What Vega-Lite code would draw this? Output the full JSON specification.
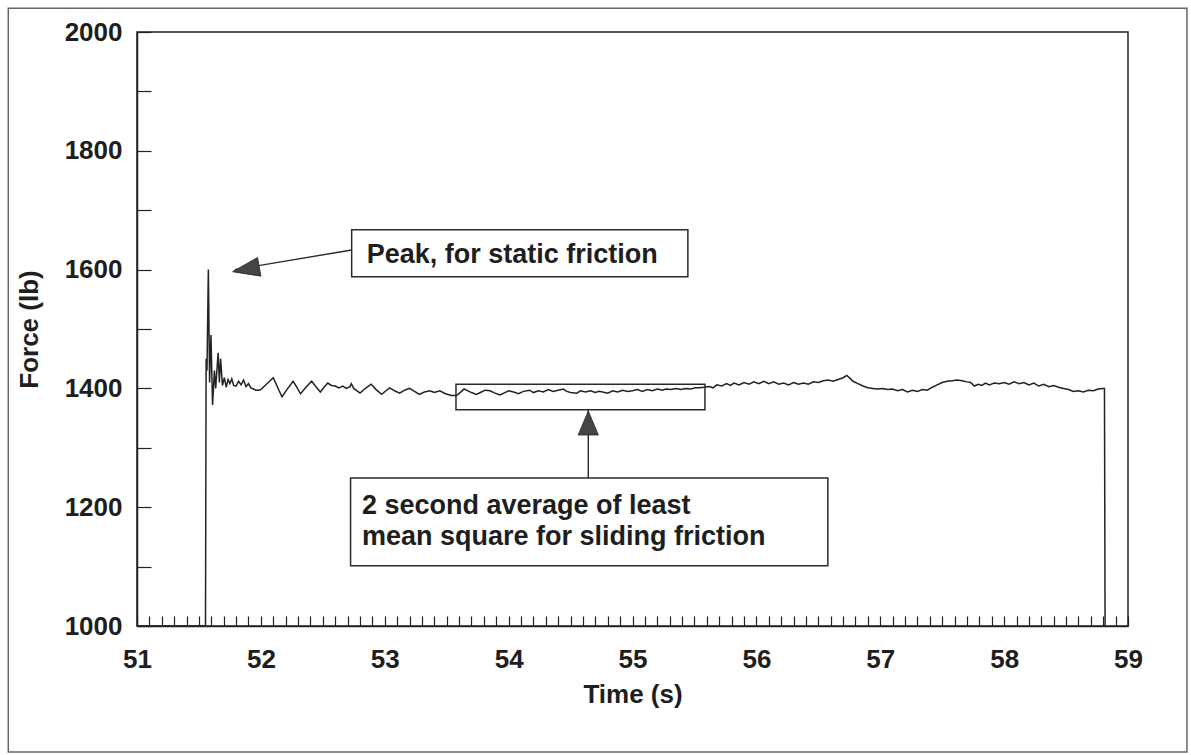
{
  "$schema": "https://vega.github.io/schema/vega-lite/v6.json",
  "width": 991,
  "height": 594,
  "autosize": "none",
  "padding": {"left": 137, "top": 32, "right": 63, "bottom": 129},
  "background": "white",
  "config": {
    "view": {"stroke": "#222", "strokeWidth": 1.5},
    "font": "Liberation Sans"
  },
  "datasets": {
    "force": [
      {"t": 51.0, "F": 1000}, {"t": 51.553, "F": 1000}, {"t": 51.558, "F": 1450}, {"t": 51.565, "F": 1430},
      {"t": 51.576, "F": 1600}, {"t": 51.586, "F": 1410}, {"t": 51.597, "F": 1490}, {"t": 51.61, "F": 1372},
      {"t": 51.625, "F": 1430}, {"t": 51.635, "F": 1400}, {"t": 51.655, "F": 1460}, {"t": 51.665, "F": 1410},
      {"t": 51.675, "F": 1450}, {"t": 51.69, "F": 1405}, {"t": 51.705, "F": 1418}, {"t": 51.72, "F": 1402},
      {"t": 51.735, "F": 1415}, {"t": 51.75, "F": 1408}, {"t": 51.765, "F": 1416}, {"t": 51.78, "F": 1405},
      {"t": 51.80, "F": 1404}, {"t": 51.82, "F": 1412}, {"t": 51.84, "F": 1406}, {"t": 51.86, "F": 1414},
      {"t": 51.88, "F": 1403}, {"t": 51.90, "F": 1408}, {"t": 51.92, "F": 1401}, {"t": 51.94, "F": 1399},
      {"t": 51.96, "F": 1397}, {"t": 51.98, "F": 1397}, {"t": 52.00, "F": 1398}, {"t": 52.03, "F": 1404},
      {"t": 52.07, "F": 1412}, {"t": 52.10, "F": 1418}, {"t": 52.13, "F": 1404}, {"t": 52.17, "F": 1386},
      {"t": 52.21, "F": 1398}, {"t": 52.26, "F": 1412}, {"t": 52.29, "F": 1402}, {"t": 52.32, "F": 1391},
      {"t": 52.36, "F": 1401}, {"t": 52.41, "F": 1412}, {"t": 52.44, "F": 1404}, {"t": 52.48, "F": 1394},
      {"t": 52.51, "F": 1402}, {"t": 52.54, "F": 1409}, {"t": 52.57, "F": 1405}, {"t": 52.60, "F": 1404},
      {"t": 52.63, "F": 1401}, {"t": 52.66, "F": 1404}, {"t": 52.69, "F": 1400}, {"t": 52.72, "F": 1403},
      {"t": 52.73, "F": 1408}, {"t": 52.75, "F": 1400}, {"t": 52.80, "F": 1392}, {"t": 52.85, "F": 1401},
      {"t": 52.89, "F": 1407}, {"t": 52.93, "F": 1398}, {"t": 52.975, "F": 1390}, {"t": 53.01, "F": 1396},
      {"t": 53.04, "F": 1401}, {"t": 53.08, "F": 1396}, {"t": 53.12, "F": 1392}, {"t": 53.16, "F": 1397},
      {"t": 53.20, "F": 1400}, {"t": 53.24, "F": 1395}, {"t": 53.28, "F": 1390}, {"t": 53.32, "F": 1394},
      {"t": 53.365, "F": 1396}, {"t": 53.40, "F": 1393}, {"t": 53.445, "F": 1396}, {"t": 53.49, "F": 1391},
      {"t": 53.54, "F": 1388}, {"t": 53.58, "F": 1388}, {"t": 53.62, "F": 1395}, {"t": 53.64, "F": 1399},
      {"t": 53.66, "F": 1397}, {"t": 53.70, "F": 1393}, {"t": 53.74, "F": 1390}, {"t": 53.78, "F": 1394},
      {"t": 53.81, "F": 1397}, {"t": 53.85, "F": 1396}, {"t": 53.89, "F": 1392}, {"t": 53.93, "F": 1389},
      {"t": 53.97, "F": 1393}, {"t": 54.00, "F": 1396}, {"t": 54.04, "F": 1394}, {"t": 54.08, "F": 1391},
      {"t": 54.12, "F": 1395}, {"t": 54.17, "F": 1397}, {"t": 54.20, "F": 1393}, {"t": 54.24, "F": 1396},
      {"t": 54.28, "F": 1394}, {"t": 54.32, "F": 1398}, {"t": 54.36, "F": 1395}, {"t": 54.40, "F": 1397},
      {"t": 54.44, "F": 1399}, {"t": 54.47, "F": 1395}, {"t": 54.50, "F": 1393}, {"t": 54.55, "F": 1392},
      {"t": 54.58, "F": 1396}, {"t": 54.62, "F": 1394}, {"t": 54.66, "F": 1396}, {"t": 54.70, "F": 1393},
      {"t": 54.73, "F": 1395}, {"t": 54.76, "F": 1394}, {"t": 54.80, "F": 1392}, {"t": 54.84, "F": 1396},
      {"t": 54.88, "F": 1394}, {"t": 54.92, "F": 1397}, {"t": 54.96, "F": 1395}, {"t": 55.00, "F": 1396},
      {"t": 55.04, "F": 1398}, {"t": 55.08, "F": 1395}, {"t": 55.12, "F": 1398}, {"t": 55.16, "F": 1396},
      {"t": 55.20, "F": 1399}, {"t": 55.24, "F": 1397}, {"t": 55.27, "F": 1399}, {"t": 55.31, "F": 1398},
      {"t": 55.35, "F": 1400}, {"t": 55.39, "F": 1398}, {"t": 55.43, "F": 1400}, {"t": 55.47, "F": 1399},
      {"t": 55.51, "F": 1401}, {"t": 55.54, "F": 1401}, {"t": 55.58, "F": 1402}, {"t": 55.62, "F": 1403},
      {"t": 55.65, "F": 1401}, {"t": 55.68, "F": 1406}, {"t": 55.72, "F": 1404}, {"t": 55.76, "F": 1408},
      {"t": 55.79, "F": 1405}, {"t": 55.82, "F": 1409}, {"t": 55.86, "F": 1406}, {"t": 55.90, "F": 1410},
      {"t": 55.94, "F": 1407}, {"t": 55.98, "F": 1411}, {"t": 56.02, "F": 1408}, {"t": 56.06, "F": 1412},
      {"t": 56.10, "F": 1408}, {"t": 56.14, "F": 1411}, {"t": 56.18, "F": 1407}, {"t": 56.22, "F": 1409},
      {"t": 56.26, "F": 1406}, {"t": 56.30, "F": 1410}, {"t": 56.34, "F": 1407}, {"t": 56.38, "F": 1409},
      {"t": 56.42, "F": 1407}, {"t": 56.46, "F": 1411}, {"t": 56.50, "F": 1410}, {"t": 56.54, "F": 1413},
      {"t": 56.58, "F": 1414}, {"t": 56.62, "F": 1412}, {"t": 56.66, "F": 1415}, {"t": 56.70, "F": 1418},
      {"t": 56.73, "F": 1422}, {"t": 56.76, "F": 1416}, {"t": 56.78, "F": 1412}, {"t": 56.82, "F": 1408},
      {"t": 56.86, "F": 1404}, {"t": 56.90, "F": 1401}, {"t": 56.94, "F": 1400}, {"t": 56.98, "F": 1399},
      {"t": 57.02, "F": 1400}, {"t": 57.06, "F": 1398}, {"t": 57.10, "F": 1399}, {"t": 57.14, "F": 1396},
      {"t": 57.18, "F": 1398}, {"t": 57.22, "F": 1394}, {"t": 57.26, "F": 1397}, {"t": 57.30, "F": 1395},
      {"t": 57.34, "F": 1398}, {"t": 57.38, "F": 1397}, {"t": 57.42, "F": 1402}, {"t": 57.46, "F": 1406},
      {"t": 57.50, "F": 1410}, {"t": 57.54, "F": 1412}, {"t": 57.58, "F": 1413}, {"t": 57.62, "F": 1414},
      {"t": 57.66, "F": 1413}, {"t": 57.70, "F": 1411}, {"t": 57.73, "F": 1410}, {"t": 57.76, "F": 1404},
      {"t": 57.79, "F": 1407}, {"t": 57.82, "F": 1405}, {"t": 57.85, "F": 1409}, {"t": 57.88, "F": 1406},
      {"t": 57.92, "F": 1409}, {"t": 57.96, "F": 1408}, {"t": 58.00, "F": 1410}, {"t": 58.04, "F": 1407},
      {"t": 58.08, "F": 1411}, {"t": 58.12, "F": 1408}, {"t": 58.16, "F": 1410}, {"t": 58.20, "F": 1406},
      {"t": 58.24, "F": 1409}, {"t": 58.28, "F": 1404}, {"t": 58.32, "F": 1407}, {"t": 58.36, "F": 1403},
      {"t": 58.40, "F": 1405}, {"t": 58.44, "F": 1402}, {"t": 58.48, "F": 1400}, {"t": 58.52, "F": 1398},
      {"t": 58.56, "F": 1395}, {"t": 58.60, "F": 1396}, {"t": 58.64, "F": 1394}, {"t": 58.68, "F": 1397},
      {"t": 58.72, "F": 1396}, {"t": 58.76, "F": 1399}, {"t": 58.80, "F": 1400}, {"t": 58.81, "F": 1400},
      {"t": 58.815, "F": 1000}
    ],
    "frame": [{"x1": 49.961, "x2": 59.476, "y1": 788, "y2": 2040}],
    "boxes": [
      {"x1": 52.733, "x2": 55.447, "y1": 1588, "y2": 1667, "kind": "label"},
      {"x1": 52.724, "x2": 56.577, "y1": 1101.5, "y2": 1249, "kind": "label"},
      {"x1": 53.575, "x2": 55.585, "y1": 1364, "y2": 1407, "kind": "region"}
    ],
    "arrows": [
      {"x1": 52.733, "y1": 1633, "x2": 51.79, "y2": 1600},
      {"x1": 54.643, "y1": 1249, "x2": 54.643, "y2": 1364}
    ],
    "head1": [{"t": 51.772, "F": 1596.5}],
    "head2": [{"t": 54.643, "F": 1362}],
    "notes": [
      {"t": 52.854, "F": 1611, "text": "Peak, for static friction"},
      {"t": 52.816, "F": 1188.6, "text": "2 second average of least"},
      {"t": 52.816, "F": 1136.4, "text": "mean square for sliding friction"}
    ]
  },
  "layer": [
    {
      "data": {"name": "force"},
      "mark": {"type": "line", "color": "#222", "strokeWidth": 1.5},
      "encoding": {
        "x": {
          "field": "t", "type": "quantitative",
          "scale": {"domain": [51, 59], "nice": false, "zero": false},
          "axis": {
            "title": "Time (s)",
            "tickCount": 200,
            "values": [51,51.1,51.2,51.3,51.4,51.5,51.6,51.7,51.8,51.9,52,52.1,52.2,52.3,52.4,52.5,52.6,52.7,52.8,52.9,53,53.1,53.2,53.3,53.4,53.5,53.6,53.7,53.8,53.9,54,54.1,54.2,54.3,54.4,54.5,54.6,54.7,54.8,54.9,55,55.1,55.2,55.3,55.4,55.5,55.6,55.7,55.8,55.9,56,56.1,56.2,56.3,56.4,56.5,56.6,56.7,56.8,56.9,57,57.1,57.2,57.3,57.4,57.5,57.6,57.7,57.8,57.9,58,58.1,58.2,58.3,58.4,58.5,58.6,58.7,58.8,58.9,59],
            "labelExpr": "datum.value % 1 === 0 ? format(datum.value, 'd') : ''",
            "labelOverlap": false,
            "labelFlush": false,
            "grid": false,
            "tickSize": -10,
            "tickWidth": 1.2,
            "tickColor": "#222",
            "domainColor": "#222",
            "domainWidth": 1.5,
            "labelFont": "Liberation Sans",
            "labelFontWeight": "bold",
            "labelFontSize": 26,
            "labelColor": "#1e1e1e",
            "labelPadding": 30,
            "titleFont": "Liberation Sans",
            "titleFontWeight": "bold",
            "titleFontSize": 26,
            "titleColor": "#1e1e1e",
            "titlePadding": 9
          }
        },
        "y": {
          "field": "F", "type": "quantitative",
          "scale": {"domain": [1000, 2000], "nice": false, "zero": false},
          "axis": {
            "title": "Force (lb)",
            "tickCount": 50,
            "values": [1000,1100,1200,1300,1400,1500,1600,1700,1800,1900,2000],
            "labelExpr": "datum.value % 200 === 0 ? format(datum.value, 'd') : ''",
            "labelOverlap": false,
            "labelFlush": false,
            "grid": false,
            "tickSize": -14,
            "tickWidth": 1.2,
            "tickColor": "#222",
            "domainColor": "#222",
            "domainWidth": 1.5,
            "labelFont": "Liberation Sans",
            "labelFontWeight": "bold",
            "labelFontSize": 26,
            "labelColor": "#1e1e1e",
            "labelPadding": 29,
            "titleFont": "Liberation Sans",
            "titleFontWeight": "bold",
            "titleFontSize": 26,
            "titleColor": "#1e1e1e",
            "titlePadding": 22
          }
        }
      }
    },
    {
      "data": {"name": "frame"},
      "mark": {"type": "rect", "fill": null, "stroke": "#666", "strokeWidth": 1.5, "clip": false},
      "encoding": {
        "x": {"field": "x1", "type": "quantitative"},
        "x2": {"field": "x2"},
        "y": {"field": "y1", "type": "quantitative"},
        "y2": {"field": "y2"}
      }
    },
    {
      "data": {"name": "boxes"},
      "mark": {"type": "rect", "stroke": "#2a2a2a", "strokeWidth": 1.5},
      "encoding": {
        "x": {"field": "x1", "type": "quantitative"},
        "x2": {"field": "x2"},
        "y": {"field": "y1", "type": "quantitative"},
        "y2": {"field": "y2"},
        "fill": {"field": "kind", "type": "nominal", "scale": {"domain": ["label", "region"], "range": ["white", "transparent"]}, "legend": null}
      }
    },
    {
      "data": {"name": "arrows"},
      "mark": {"type": "rule", "color": "#2a2a2a", "strokeWidth": 1.4},
      "encoding": {
        "x": {"field": "x1", "type": "quantitative"},
        "x2": {"field": "x2"},
        "y": {"field": "y1", "type": "quantitative"},
        "y2": {"field": "y2"}
      }
    },
    {
      "data": {"name": "head1"},
      "mark": {"type": "point", "shape": "M0,0L0.35,1L-0.35,1Z", "size": 2916, "angle": 259.7, "filled": true, "fill": "#454545", "stroke": "#222", "strokeWidth": 0.8, "opacity": 1},
      "encoding": {
        "x": {"field": "t", "type": "quantitative"},
        "y": {"field": "F", "type": "quantitative"}
      }
    },
    {
      "data": {"name": "head2"},
      "mark": {"type": "point", "shape": "M0,0L0.42,1L-0.42,1Z", "size": 2304, "angle": 0, "filled": true, "fill": "#454545", "stroke": "#222", "strokeWidth": 0.8, "opacity": 1},
      "encoding": {
        "x": {"field": "t", "type": "quantitative"},
        "y": {"field": "F", "type": "quantitative"}
      }
    },
    {
      "data": {"name": "notes"},
      "mark": {"type": "text", "align": "left", "baseline": "alphabetic", "font": "Liberation Sans", "fontWeight": "bold", "fontSize": 27, "color": "#1e1e1e"},
      "encoding": {
        "x": {"field": "t", "type": "quantitative"},
        "y": {"field": "F", "type": "quantitative"},
        "text": {"field": "text"}
      }
    }
  ]
}
